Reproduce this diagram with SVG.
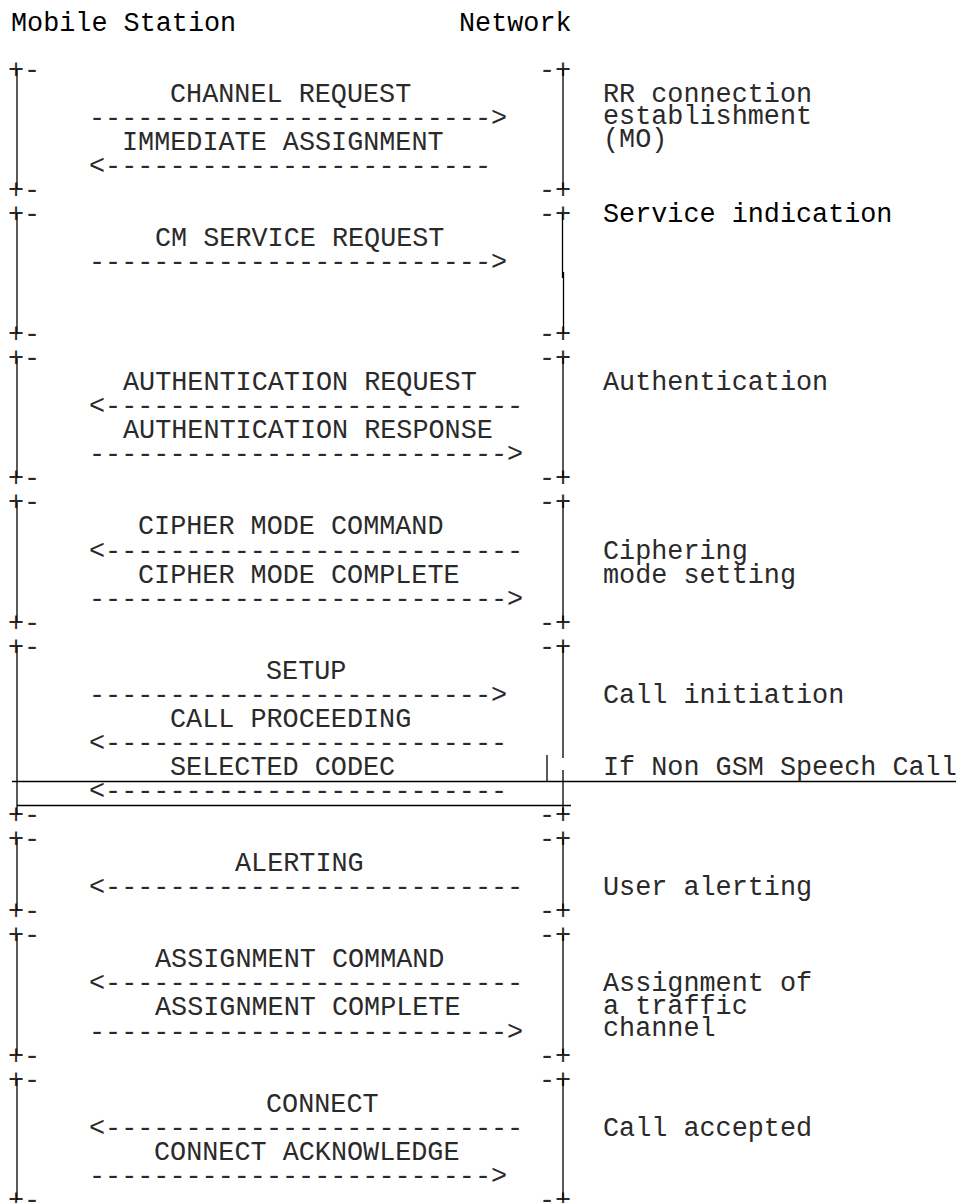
<svg xmlns="http://www.w3.org/2000/svg" width="956" height="1203" viewBox="0 0 956 1203">
<style>
text{font-family:"Liberation Mono","Courier New",monospace;font-size:26.8px;white-space:pre}
.t{fill:#000}
.m{fill:#2a2a2a}
.a{fill:#2a2a2a}
.c{fill:#2a2a2a}
.v{stroke:#000;stroke-width:1.3;fill:none}
</style>
<rect width="956" height="1203" fill="#fff"/>
<g id="headers">
<text class="t" x="11" y="31">Mobile Station</text>
<text class="t" x="459" y="31">Network</text>
</g>
<g id="frames" class="m">
<text x="8" y="77.5">+-</text><text x="539" y="77.5">-+</text>
<text x="8" y="197.75">+-</text><text x="539" y="197.75">-+</text>
<text x="8" y="221.8">+-</text><text x="539" y="221.8">-+</text>
<text x="8" y="342.05">+-</text><text x="539" y="342.05">-+</text>
<text x="8" y="366.1">+-</text><text x="539" y="366.1">-+</text>
<text x="8" y="486.35">+-</text><text x="539" y="486.35">-+</text>
<text x="8" y="510.4">+-</text><text x="539" y="510.4">-+</text>
<text x="8" y="630.65">+-</text><text x="539" y="630.65">-+</text>
<text x="8" y="654.7">+-</text><text x="539" y="654.7">-+</text>
<text x="8" y="823.05">+-</text><text x="539" y="823.05">-+</text>
<text x="8" y="847.1">+-</text><text x="539" y="847.1">-+</text>
<text x="8" y="919.25">+-</text><text x="539" y="919.25">-+</text>
<text x="8" y="943.3">+-</text><text x="539" y="943.3">-+</text>
<text x="8" y="1063.55">+-</text><text x="539" y="1063.55">-+</text>
<text x="8" y="1087.6">+-</text><text x="539" y="1087.6">-+</text>
<text x="8" y="1207.85">+-</text><text x="539" y="1207.85">-+</text>
</g>
<g id="frame-lines" class="v">
<line x1="17" y1="69" x2="17" y2="189"/><line x1="563" y1="69" x2="563" y2="189"/>
<line x1="17" y1="213" x2="17" y2="334"/><line x1="562.5" y1="213" x2="562.5" y2="278"/><line x1="563.5" y1="272" x2="563.5" y2="334"/>
<line x1="17" y1="358" x2="17" y2="478"/><line x1="563" y1="358" x2="563" y2="478"/>
<line x1="17" y1="502" x2="17" y2="622"/><line x1="563" y1="502" x2="563" y2="622"/>
<line x1="17" y1="646" x2="17" y2="815"/><line x1="563" y1="646" x2="563" y2="758"/><line x1="563" y1="770" x2="563" y2="815"/>
<line x1="547" y1="755" x2="547" y2="782"/>
<line x1="12" y1="781.5" x2="956" y2="781.5"/>
<line x1="17" y1="805.5" x2="571" y2="805.5"/>
<line x1="17" y1="839" x2="17" y2="911"/><line x1="563" y1="839" x2="563" y2="911"/>
<line x1="17" y1="935" x2="17" y2="1055"/><line x1="563" y1="935" x2="563" y2="1055"/>
<line x1="17" y1="1079" x2="17" y2="1200"/><line x1="563" y1="1079" x2="563" y2="1200"/>
</g>
<g id="rr-connection">
<text class="m" x="170" y="101.55">CHANNEL REQUEST</text>
<text class="m" x="122" y="149.65">IMMEDIATE ASSIGNMENT</text>
<text class="c" x="603" y="101.55">RR connection</text>
<text class="c" x="603" y="124">establishment</text>
<text class="c" x="603" y="146.5">(MO)</text>
</g>
<g id="service-indication">
<text class="m" x="155" y="245.85">CM SERVICE REQUEST</text>
<text class="t" x="603" y="221.8">Service indication</text>
</g>
<g id="authentication">
<text class="m" x="123" y="390.15">AUTHENTICATION REQUEST</text>
<text class="m" x="123" y="438.25">AUTHENTICATION RESPONSE</text>
<text class="c" x="603" y="390.15">Authentication</text>
</g>
<g id="ciphering">
<text class="m" x="138" y="534.45">CIPHER MODE COMMAND</text>
<text class="m" x="138" y="582.55">CIPHER MODE COMPLETE</text>
<text class="c" x="603" y="558.5">Ciphering</text>
<text class="c" x="603" y="582.55">mode setting</text>
</g>
<g id="call-initiation">
<text class="m" x="266" y="678.75">SETUP</text>
<text class="m" x="170" y="726.85">CALL PROCEEDING</text>
<text class="m" x="170" y="774.95">SELECTED CODEC</text>
<text class="c" x="603" y="702.8">Call initiation</text>
<text class="c" x="603" y="774.95">If Non GSM Speech Call</text>
</g>
<g id="user-alerting">
<text class="m" x="235" y="871.15">ALERTING</text>
<text class="c" x="603" y="895.2">User alerting</text>
</g>
<g id="assignment">
<text class="m" x="155" y="967.35">ASSIGNMENT COMMAND</text>
<text class="m" x="155" y="1015.45">ASSIGNMENT COMPLETE</text>
<text class="c" x="603" y="991.4">Assignment of</text>
<text class="c" x="603" y="1013.9">a traffic</text>
<text class="c" x="603" y="1036.4">channel</text>
</g>
<g id="call-accepted">
<text class="m" x="266" y="1111.65">CONNECT</text>
<text class="m" x="154" y="1159.75">CONNECT ACKNOWLEDGE</text>
<text class="c" x="603" y="1135.7">Call accepted</text>
</g>
<g id="connectors" class="a">
<text x="89" y="125.6">-------------------------&gt;</text>
<text x="89" y="173.7">&lt;------------------------</text>
<text x="89" y="269.9">-------------------------&gt;</text>
<text x="89" y="414.2">&lt;--------------------------</text>
<text x="89" y="462.3">--------------------------&gt;</text>
<text x="89" y="558.5">&lt;--------------------------</text>
<text x="89" y="606.6">--------------------------&gt;</text>
<text x="89" y="702.8">-------------------------&gt;</text>
<text x="89" y="750.9">&lt;-------------------------</text>
<text x="89" y="799">&lt;-------------------------</text>
<text x="89" y="895.2">&lt;--------------------------</text>
<text x="89" y="991.4">&lt;--------------------------</text>
<text x="89" y="1039.5">--------------------------&gt;</text>
<text x="89" y="1135.7">&lt;--------------------------</text>
<text x="89" y="1183.8">-------------------------&gt;</text>
</g>
</svg>
